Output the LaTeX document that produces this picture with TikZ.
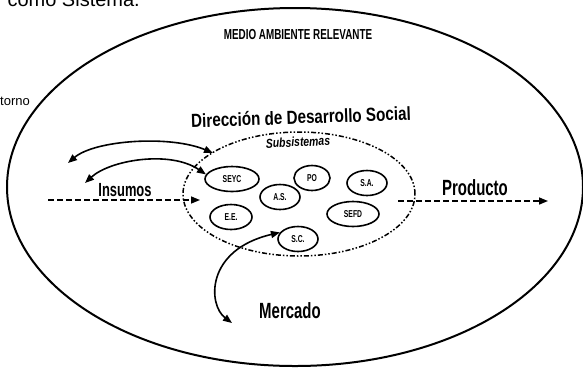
\documentclass[tikz,border=0pt]{standalone}
\usepackage{fontspec}
\setmainfont{Liberation Sans}
\newfontfamily\schmal[FakeStretch=0.68]{Liberation Sans}
\newfontfamily\halb[FakeStretch=0.8]{Liberation Sans}
\usetikzlibrary{shapes.geometric,arrows.meta}

\begin{document}
\begin{tikzpicture}[x=1pt,y=-1pt,
    doppel/.style={{Triangle[length=9pt,width=7pt]}-{Triangle[length=9pt,width=7pt]},line width=1.6pt},
    spitze/.style={-{Triangle[length=9pt,width=7pt]}},
    fluss/.style={dashed,dash pattern=on 6pt off 3pt,line width=1.5pt},
    sub/.style={ellipse,draw,line width=1.6pt,minimum height=25pt,inner sep=0pt,
        font=\schmal\bfseries\fontsize{10}{10}\selectfont}]

    % Bildgröße
    \useasboundingbox (0,0) rectangle (583,368);

    % Überschrift (abgeschnitten)
    \node[font=\fontsize{20}{20}\selectfont,anchor=base east,inner sep=0pt] (titel) at (140,6) {como Sistema.};
    \node[font=\fontsize{13}{13}\selectfont,anchor=west,inner sep=0pt] (entorno) at (0,101) {torno};

    % Medio ambiente
    \node[ellipse,draw,line width=2pt,minimum width=576pt,minimum height=358pt,inner sep=0pt] (medio) at (295,187) {};
    \node[font=\schmal\bfseries\fontsize{14.5}{14.5}\selectfont] (relevante) at (298,35) {MEDIO AMBIENTE RELEVANTE};

    % System
    \node[ellipse,draw,line width=1.5pt,dash pattern=on 5pt off 2pt on 1.5pt off 2pt on 1.5pt off 2pt,
        minimum width=232pt,minimum height=124pt,inner sep=0pt] (sistema) at (299,194) {};
    \node[font=\halb\bfseries\fontsize{19}{19}\selectfont,rotate=2,inner sep=1pt] (dds) at (301,117) {Dirección de Desarrollo Social};
    \node[font=\halb\bfseries\itshape\fontsize{13}{13}\selectfont,rotate=3,inner sep=1pt] (subs) at (298,142) {Subsistemas};

    % Subsysteme
    \foreach \n/\x/\y/\w/\t in {seyc/232/179/54/SEYC, po/312/178/36/PO, sa/367/183/40/S.A.,
        as/280/197/40/A.S., ee/231/217/42/E.E., sefd/353/214/52/SEFD, sc/298/239/40/S.C.} {
        \node[sub,minimum width=\w pt] (\n) at (\x,\y) {\t};
    }

    % Ein- und Ausgang
    \coordinate (ein) at (48,200);
    \coordinate (einende) at (200,200);
    \coordinate (aus) at (398,201);
    \coordinate (ausende) at (548,201);
    \draw[fluss,spitze] (ein) -- (einende);
    \draw[fluss,spitze] (aus) -- (ausende);
    \node[font=\schmal\bfseries\fontsize{19}{19}\selectfont] (insumos) at (125,190) {Insumos};
    \node[font=\schmal\bfseries\fontsize{22}{22}\selectfont] (producto) at (475,188) {Producto};

    % Rückkopplung
    \coordinate (r1) at (68,163);
    \coordinate (s1) at (213,153);
    \coordinate (r2) at (85,183);
    \coordinate (mk) at (232,323);
    \draw[doppel] (r1) .. controls (95,140) and (170,135) .. (s1);
    \draw[doppel] (r2) .. controls (110,160) and (170,150) .. (seyc.170);
    \draw[doppel] (mk) .. controls (208,305) and (205,250) .. (sc.160);
    \node[font=\schmal\bfseries\fontsize{22}{22}\selectfont] (mercado) at (290,311) {Mercado};
\end{tikzpicture}
\end{document}
